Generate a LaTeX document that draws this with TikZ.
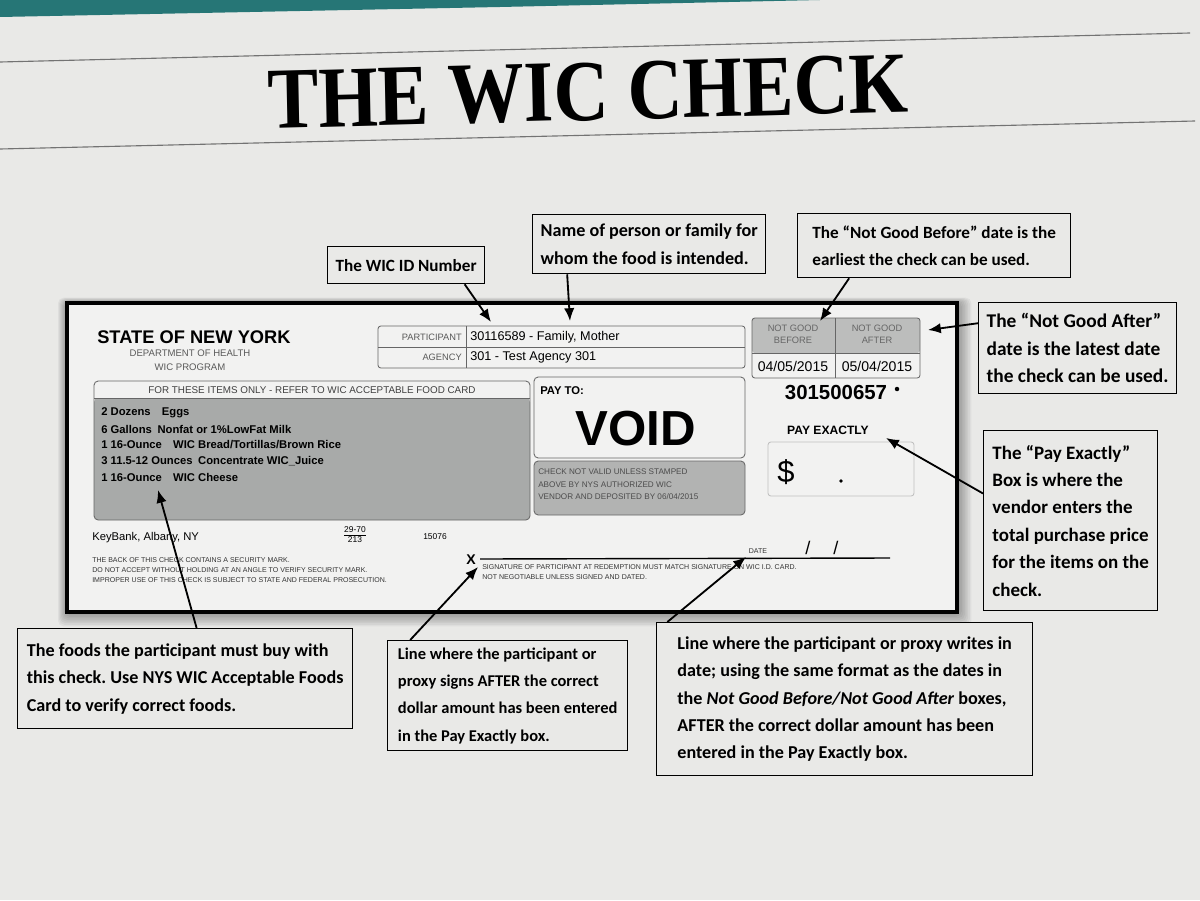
\documentclass[tikz,border=0pt]{standalone}
\usepackage{fontspec}
\setmainfont{Carlito}
\newfontfamily\chkfont{Liberation Sans}
\newfontfamily\ttlfont{Liberation Serif}
\usetikzlibrary{arrows.meta,positioning,calc}
\definecolor{paper}{RGB}{233,233,231}
\definecolor{chkwhite}{RGB}{242,242,241}
\definecolor{tealband}{RGB}{38,118,118}
\definecolor{foodgray}{RGB}{168,170,169}
\definecolor{hdgray}{RGB}{188,189,188}
\definecolor{stampgray}{RGB}{178,179,178}
\frenchspacing

\begin{document}
\begin{tikzpicture}[x=0.025cm,y=-0.025cm,
  note/.style={draw,line width=0.9pt,fill=paper,anchor=north west,align=left,
    inner xsep=0.2cm,inner ysep=0pt,font=\bfseries\fontsize{#1}{19.5}\selectfont},
  note/.default=12.9,
  arr/.style={-{Latex[length=3.2mm,width=2.6mm]},line width=1.3pt},
  cell/.style={draw=black!60,line width=0.6pt},
  ck/.style={font=\chkfont\fontsize{#1}{#1}\selectfont,inner sep=0pt},
  ckb/.style={font=\chkfont\bfseries\fontsize{#1}{#1}\selectfont,inner sep=0pt},
  sm/.style={font=\chkfont\fontsize{5}{6}\selectfont,text=black!80,anchor=west,inner sep=0pt}]
 % page
 \fill[paper] (0,0) rectangle (1200,900);
 \useasboundingbox (0,0) rectangle (1200,900);
 \fill[tealband] (0,0) -- (820,0) -- (500,7) -- (0,17) -- cycle;
 \draw[black!55,line width=0.8pt] (0,62) -- (1190,33);
 \draw[black!55,line width=0.8pt] (0,149) -- (1195,121);
 \node[font=\ttlfont\bfseries\fontsize{59}{60}\selectfont,xscale=0.92,yscale=1.05,rotate=1.3] (ttl) at (588,92) {THE WIC CHECK};

 % the check
 \foreach \s in {1,...,9}
   \fill[black,opacity=0.045,rounded corners=4pt] ({67-\s},{303-0.6*\s}) rectangle ({957+1.6*\s},{612+1.6*\s});
 \draw[line width=2.2pt,fill=chkwhite] (67,303) rectangle (957,612);
 \node[ckb=13,anchor=west] (state) at (97,337) {STATE OF NEW YORK};
 \node[text=black!65,align=center,inner sep=0pt,font=\chkfont\fontsize{6.8}{10}\selectfont] (dept) at (190,360) {DEPARTMENT OF HEALTH\\WIC PROGRAM};

 % participant / agency
 \draw[cell,rounded corners=2pt] (378,326) rectangle (745,368);
 \draw[cell] (378,347) -- (745,347) (466,326) -- (466,368);
 \node[ck=6.6,text=black!65,anchor=east] (plab) at (462,337) {PARTICIPANT};
 \node[ck=6.6,text=black!65,anchor=east] (alab) at (462,357) {AGENCY};
 \node[ck=9,anchor=west] (pid) at (470,337) {30116589 - Family, Mother};
 \node[ck=9,anchor=west] (agency) at (470,357) {301 - Test Agency 301};

 % dates
 \fill[hdgray,rounded corners=2pt] (752,318) rectangle (920,353);
 \draw[cell,rounded corners=2pt] (752,318) rectangle (920,378);
 \draw[cell] (752,353) -- (920,353) (835,318) -- (835,378);
 \node[text=black!60,align=center,inner sep=0pt,font=\chkfont\fontsize{6.6}{8.5}\selectfont] (ngbh) at (793,334) {NOT GOOD\\BEFORE};
 \node[text=black!60,align=center,inner sep=0pt,font=\chkfont\fontsize{6.6}{8.5}\selectfont] (ngah) at (877,334) {NOT GOOD\\AFTER};
 \node[ck=10] (ngb) at (793,366) {04/05/2015};
 \node[ck=10] (nga) at (877,366) {05/04/2015};
 \node[ckb=14.5] (chkno) at (836,392) {301500657};
 \fill (897,389) circle (1.6pt);

 % food items
 \fill[foodgray,rounded corners=3pt] (94,398) rectangle (530,520);
 \draw[cell,rounded corners=3pt] (94,381) rectangle (530,520);
 \draw[cell] (94,398) -- (530,398);
 \node[ck=7,text=black!75] (foodhd) at (312,390) {FOR THESE ITEMS ONLY - REFER TO WIC ACCEPTABLE FOOD CARD};
 \foreach \i/\t in {0/{2 Dozens\quad Eggs},
                    1/{6 Gallons\enspace Nonfat or 1\%LowFat Milk},
                    2/{1 16-Ounce\quad WIC Bread/Tortillas/Brown Rice},
                    3/{3 11.5-12 Ounces\enspace Concentrate WIC\_Juice},
                    4/{1 16-Ounce\quad WIC Cheese}}
   \node[ckb=8,anchor=west] (item\i) at (101,{413+16*\i}) {\t};

 % pay to
 \draw[cell,rounded corners=3pt,fill=chkwhite] (534,377) rectangle (745,458);
 \node[ckb=8,anchor=west] (payto) at (540,391) {PAY TO:};
 \node[ckb=35] (void) at (636,429) {VOID};
 \draw[cell,rounded corners=3pt,fill=stampgray] (534,461) rectangle (745,515);
 \foreach \i/\t in {0/{CHECK NOT VALID UNLESS STAMPED},
                    1/{ABOVE BY NYS AUTHORIZED WIC},
                    2/{VENDOR AND DEPOSITED BY 06/04/2015}}
   \node[ck=5.8,text=black!70,anchor=west] (stamp\i) at (538,{472+12.5*\i}) {\t};

 % pay exactly
 \node[ckb=8.6] (payx) at (828,430) {PAY EXACTLY};
 \draw[black!25,line width=0.6pt,rounded corners=2pt] (768,442) rectangle (914,496);
 \node[ck=22] (dollar) at (786,472) {\$};
 \fill (841,481) circle (1.3pt);

 % bank line and fine print
 \node[ck=8,anchor=west] (bank) at (92,538) {KeyBank, Albany, NY};
 \node[align=center,inner sep=0pt,font=\chkfont\fontsize{6}{7}\selectfont] (route) at (355,535) {\underline{29-70}\\213};
 \node[ck=6] (serial) at (435,537) {15076};
 \foreach \i/\t in {0/{THE BACK OF THIS CHECK CONTAINS A SECURITY MARK.},
                    1/{DO NOT ACCEPT WITHOUT HOLDING AT AN ANGLE TO VERIFY SECURITY MARK.},
                    2/{IMPROPER USE OF THIS CHECK IS SUBJECT TO STATE AND FEDERAL PROSECUTION.}}
   \node[sm] (fine\i) at (92,{560+10*\i}) {\t};

 % signature and date line
 \node[ckb=10] (xmark) at (471,560) {X};
 \draw[line width=1pt] (480,559) -- (890,558);
 \node[sm] (sig0) at (482,567) {SIGNATURE OF PARTICIPANT AT REDEMPTION MUST MATCH SIGNATURE ON WIC I.D. CARD.};
 \node[sm] (sig1) at (482,577) {NOT NEGOTIABLE UNLESS SIGNED AND DATED.};
 \node[ck=5,text=black!80] (datelab) at (758,551) {DATE};
 \node[ck=13] (sl1) at (808,548) {/};
 \node[ck=13] (sl2) at (836,548) {/};

 % callouts
 \node[note=12.2,minimum width=3.9cm,minimum height=0.925cm] (cid) at (327,246) {The WIC ID Number};
 \node[note,minimum width=5.775cm,minimum height=1.475cm] (cname) at (532,214)
   {Name of person or family for\\whom the food is intended.};
 \node[note=12.2,minimum width=6.825cm,minimum height=1.6cm] (cngb) at (797,213)
   {The ``Not Good Before'' date is the\\earliest the check can be used.};
 \node[note=13.8,minimum width=4.925cm,minimum height=2.275cm] (cnga) at (978,302)
   {The ``Not Good After''\\date is the latest date\\the check can be used.};
 \node[note=13.5,minimum width=4.35cm,minimum height=4.5cm] (cpay) at (983,430)
   {The ``Pay Exactly''\\Box is where the\\vendor enters the\\total purchase price\\for the items on the\\check.};
 \node[note,minimum width=8.375cm,minimum height=2.5cm] (cfood) at (17,628)
   {The foods the participant must buy with\\this check. Use NYS WIC Acceptable Foods\\Card to verify correct foods.};
 \node[note=11.7,minimum width=6cm,minimum height=2.75cm] (csign) at (387,640)
   {Line where the participant or\\proxy signs AFTER the correct\\dollar amount has been entered\\in the Pay Exactly box.};
 \node[note,minimum width=9.4cm,minimum height=3.825cm] (cdate) at (656,622)
   {Line where the participant or proxy writes in\\date; using the same format as the dates in\\the \textit{Not Good Before/Not Good After} boxes,\\AFTER the correct dollar amount has been\\entered in the Pay Exactly box.};

 % arrow targets on the check
 \coordinate (tid) at (491,322);
 \coordinate (tname) at (570,321);
 \coordinate (tngb) at (820,321);
 \coordinate (tnga) at (928,330);
 \coordinate (tpay) at (886,438);
 \coordinate (tfood) at (158,490);
 \coordinate (tsign) at (478,567);
 \coordinate (tdate) at (746,557);

 % arrows
 \draw[arr] ($(cid.south west)!0.87!(cid.south east)$) -- (tid);
 \draw[arr] ($(cname.south west)!0.15!(cname.south east)$) -- (tname);
 \draw[arr] ($(cngb.south west)!0.19!(cngb.south east)$) -- (tngb);
 \draw[arr] ($(cnga.north west)!0.23!(cnga.south west)$) -- (tnga);
 \draw[arr] ($(cpay.north west)!0.35!(cpay.south west)$) -- (tpay);
 \draw[arr] ($(cfood.north west)!0.534!(cfood.north east)$) -- (tfood);
 \draw[arr] ($(csign.north west)!0.096!(csign.north east)$) -- (tsign);
 \draw[arr] ($(cdate.north west)!0.03!(cdate.north east)$) -- (tdate);
\end{tikzpicture}
\end{document}
